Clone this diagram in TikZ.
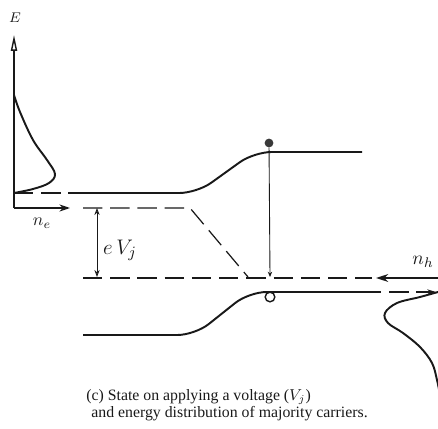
\documentclass[tikz,border=0pt]{standalone}
\usepackage{fontspec}
\setmainfont{Liberation Serif}
\usetikzlibrary{arrows.meta}
\definecolor{inkdark}{RGB}{25,25,25}

\begin{document}
\begin{tikzpicture}[x=0.02cm, y=-0.02cm,
    band/.style={inkdark, line width=1.1pt},
    level/.style={inkdark, line width=0.7pt, dash pattern=on 11pt off 4.5pt},
    axis/.style={inkdark, line width=0.8pt},
    every node/.style={inner sep=0pt, text=inkdark}]
  \useasboundingbox (0,0) rectangle (438,428);
  \coordinate (origin) at (14,208);
  \coordinate (Etip) at (14,35);
  \coordinate (netip) at (70,208);
  \coordinate (nhstart) at (438,278);
  \coordinate (nhtip) at (376,278);
  \coordinate (fermin) at (97,208);
  \coordinate (fermip) at (97,277);
  \coordinate (drop) at (270,277);
  \draw[axis, -{Triangle[open, length=9pt, width=3.5pt]}] (origin) -- (Etip);
  \draw[axis, -{Stealth[length=6pt, width=4pt]}] (origin) -- (netip);
  \draw[axis, -{Stealth[length=7pt, width=4.5pt]}] (nhstart) -- (nhtip);
  \node (Elabel) at (15,18) {\fontsize{8}{8}\selectfont $E$};
  \node (nelabel) at (42,223) {\fontsize{10}{10}\selectfont $n_e$};
  \node (nhlabel) at (423,262) {\fontsize{11}{11}\selectfont $n_h$};
  \node (eVj) at (120,250) {\fontsize{13}{13}\selectfont $e\,V_j$};
  \draw[band] plot[smooth, tension=0.6] coordinates {(14,95) (20,112) (33,140) (47,160) (55,174) (49,183) (33,189) (14,193)};
  \draw[level] (14,193) -- (83,193);
  \draw[band, rounded corners=10pt] (83,193) -- (197,193) -- (254,152) -- (362,152);
  \draw[level] (83,208) -- (190,208) -- (248,277);
  \draw[level] (83,278) -- (372,278);
  \draw[band, rounded corners=10pt] (83,335) -- (195,335) -- (249,292) -- (362,292);
  \draw[level, -{Stealth[length=5pt, width=3pt]}] (362,292) -- (436,292);
  \draw[band] plot[smooth, tension=0.6] coordinates {(438,292) (420,297) (397,303) (385,313) (388,323) (403,333) (420,347) (432,363) (437,380) (440,395)};
  \node[circle, fill=gray!45!black, minimum size=5pt] (electron) at (269,143) {};
  \node[circle, draw=inkdark, fill=white, line width=0.8pt, minimum size=5.5pt] (hole) at (270,297) {};
  \draw[inkdark, line width=0.5pt, -{Stealth[length=3pt, width=2.5pt]}] (electron) -- (drop);
  \draw[inkdark, line width=0.5pt, {Stealth[open, length=4pt, width=3pt]}-{Stealth[open, length=4pt, width=3pt]}] (fermin) -- (fermip);
  \node[anchor=west] (capone) at (86,397) {\fontsize{9}{10}\selectfont (c) State on applying a voltage ($V_j$)};
  \node[anchor=west] (captwo) at (91,414) {\fontsize{9}{10}\selectfont and energy distribution of majority carriers.};
\end{tikzpicture}
\end{document}
